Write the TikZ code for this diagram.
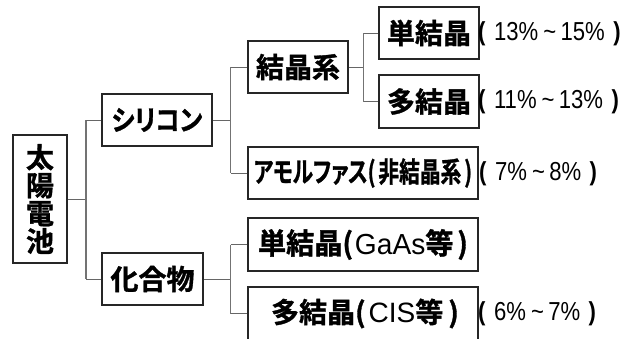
\documentclass[tikz,border=0pt]{standalone}
\usepackage{graphicx}
\usepackage{fontspec}
\setmainfont{Liberation Sans}
\newfontfamily\jp[BoldFont={Noto Sans CJK JP Bold},BoldFeatures={FakeBold=1.2},RawFeature=+palt]{Noto Sans CJK JP}
\newcommand{\sx}[2]{\scalebox{#1}[1]{#2}}
\newcommand{\pc}[2]{\sx{0.85}{\textbf{(}\hspace{10pt}#1\hspace{6pt}\textasciitilde\hspace{5pt}#2\hspace{10pt}\textbf{)}}}
\begin{document}
\begin{tikzpicture}[x=1pt,y=-1pt,
  box/.style={draw=black!85,line width=1.1pt,inner sep=0pt,font=\jp\bfseries\fontsize{28}{28}\selectfont},
  conn/.style={draw=black!55,line width=1.5pt},
  stub/.style={draw=black!60,line width=1pt},
  pct/.style={anchor=west,inner sep=0pt,font=\fontsize{26}{26}\selectfont}]
\useasboundingbox (0,0) rectangle (642,338);
\clip (0,0) rectangle (642,338);
\fill[white] (0,0) rectangle (642,338);
% boxes
\node[box,minimum width=54pt,minimum height=128pt,align=center] (taiyo) at (40,199) {太\\[0pt]陽\\[0pt]電\\[0pt]池};
\node[box,minimum width=110pt,minimum height=52pt] (si) at (157,120) {\sx{0.88}{シリコン}};
\node[box,minimum width=101pt,minimum height=52pt] (kago) at (152.5,279) {化合物};
\node[box,minimum width=100pt,minimum height=52pt] (kei) at (298,67) {結晶系};
\node[box,minimum width=230pt,minimum height=52pt] (amo) at (363,173) {\sx{0.74}{アモルファス(\hspace{4pt}非結晶系\hspace{4pt})}};
\node[box,minimum width=230pt,minimum height=53pt] (gaas) at (363,244.5) {\fontsize{29}{29}\selectfont\sx{0.97}{単結晶(\hspace{2pt}{\rmfamily\mdseries GaAs}等\hspace{4pt})}};
\node[box,minimum width=230pt,minimum height=53pt] (cis) at (363,313.5) {\hspace*{4pt}多結晶(\hspace{3pt}{\rmfamily\mdseries CIS}等\hspace{5pt})};
\node[box,minimum width=100pt,minimum height=52pt] (tan) at (429,33) {単結晶};
\node[box,minimum width=100pt,minimum height=53pt] (ta) at (429,101.5) {多結晶};
% junctions
\coordinate (j1) at (86,199);
\coordinate (j2) at (230.5,120);
\coordinate (j3) at (230.5,279);
\coordinate (j4) at (363.5,67);
% connectors
\draw[stub] (taiyo.east) -- (j1);
\draw[conn] (si.west -| j1) -- (kago.west -| j1);
\draw[stub] (si.west) -- (si.west -| j1);
\draw[stub] (kago.west) -- (kago.west -| j1);
\draw[stub] (si.east) -- (j2);
\draw[conn] (kei.west -| j2) -- (amo.west -| j2);
\draw[stub] (kei.west) -- (kei.west -| j2);
\draw[stub] (amo.west) -- (amo.west -| j2);
\draw[stub] (kago.east) -- (j3);
\draw[conn] (gaas.west -| j3) -- (cis.west -| j3);
\draw[stub] (gaas.west) -- (gaas.west -| j3);
\draw[stub] (cis.west) -- (cis.west -| j3);
\draw[stub] (kei.east) -- (j4);
\draw[conn] (tan.west -| j4) -- (ta.west -| j4);
\draw[stub] (tan.west) -- (tan.west -| j4);
\draw[stub] (ta.west) -- (ta.west -| j4);
% labels
\node[pct] (p1) at (478,34) {\pc{13\%}{15\%}};
\node[pct] (p2) at (478,102) {\pc{11\%}{13\%}};
\node[pct] (p3) at (479,174) {\pc{7\%}{8\%}};
\node[pct] (p4) at (478,314) {\pc{6\%}{7\%}};
\end{tikzpicture}
\end{document}
